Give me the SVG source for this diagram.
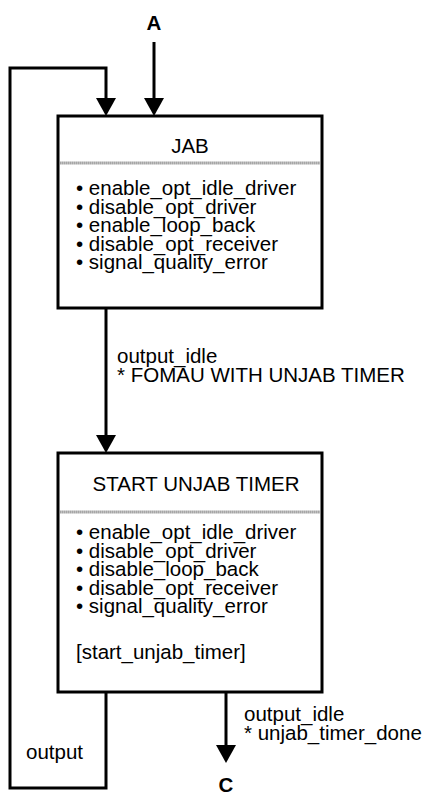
<svg xmlns="http://www.w3.org/2000/svg" width="429" height="795" viewBox="0 0 429 795">
<defs>
<marker id="ah" viewBox="0 0 18 20" refX="0" refY="10" markerWidth="18" markerHeight="20" markerUnits="userSpaceOnUse" orient="auto">
<path d="M0,0 L18,10 L0,20 z" fill="#000"/>
</marker>
</defs>
<style>
text{font-family:"Liberation Sans",Arial,sans-serif;font-size:20.5px;fill:#000}
.b{font-weight:bold}
.box{fill:#fff;stroke:#000;stroke-width:3}
.sep{stroke:#808080;stroke-width:3;stroke-dasharray:1.2 0.8}
.ln{fill:none;stroke:#000;stroke-width:3}
</style>
<g id="connectors">
<path class="ln" d="M154,42 V98" marker-end="url(#ah)"/>
<path class="ln" d="M106,692 V788 H10 V68 H106 V98" marker-end="url(#ah)"/>
<path class="ln" d="M106,308 V435" marker-end="url(#ah)"/>
<path class="ln" d="M226,692 V745" marker-end="url(#ah)"/>
<text x="117" y="363">output_idle</text>
<text x="117" y="382">* FOMAU WITH UNJAB TIMER</text>
<text x="244" y="721">output_idle</text>
<text x="244" y="740">* unjab_timer_done</text>
<text x="26" y="759">output</text>
</g>
<g id="A"><text class="b" x="154" y="30" text-anchor="middle">A</text></g>
<g id="C"><text class="b" x="226" y="792" text-anchor="middle">C</text></g>
<g id="jab">
<rect class="box" x="58" y="116" width="264" height="192"/>
<text x="190" y="153" text-anchor="middle">JAB</text>
<line class="sep" x1="59.5" y1="163" x2="320.5" y2="163"/>
<text x="76" y="195">• enable_opt_idle_driver</text>
<text x="76" y="213.5">• disable_opt_driver</text>
<text x="76" y="232">• enable_loop_back</text>
<text x="76" y="250.5">• disable_opt_receiver</text>
<text x="76" y="269">• signal_quality_error</text>
</g>
<g id="start_unjab_timer">
<rect class="box" x="58" y="453" width="264" height="239"/>
<text x="196" y="491" text-anchor="middle">START UNJAB TIMER</text>
<line class="sep" x1="59.5" y1="512" x2="320.5" y2="512"/>
<text x="76" y="539">• enable_opt_idle_driver</text>
<text x="76" y="557.5">• disable_opt_driver</text>
<text x="76" y="576">• disable_loop_back</text>
<text x="76" y="594.5">• disable_opt_receiver</text>
<text x="76" y="613">• signal_quality_error</text>
<text x="76" y="659">[start_unjab_timer]</text>
</g>
</svg>
